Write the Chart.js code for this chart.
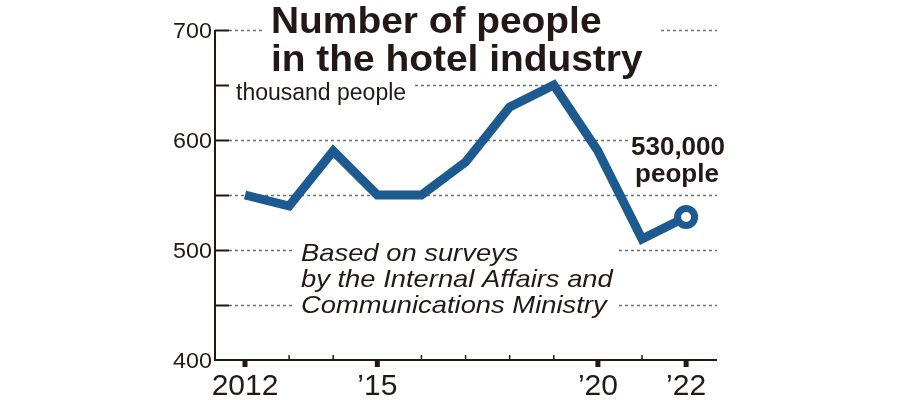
<!DOCTYPE html>
<html>
<head>
<meta charset="utf-8">
<script src="https://cdn.jsdelivr.net/npm/chart.js@4"></script>
<style>
  html, body { margin: 0; padding: 0; background: #fff; }
  #wrap { width: 900px; height: 400px; position: relative; }
</style>
</head>
<body>
<div id="wrap"><canvas id="hotel_chart"></canvas></div>
<script>
// data (thousand people)
var years = [2012, 2013, 2014, 2015, 2016, 2017, 2018, 2019, 2020, 2021, 2022];
var workers = [550, 540, 590, 550, 550, 580, 630, 650, 590, 510, 530];
var grid_values = [450, 500, 550, 600, 650, 700];
var y_label_values = [400, 500, 600, 700];
var x_label_years = [2012, 2015, 2020, 2022];
var x_labels = ['2012', '\u201915', '\u201920', '\u201922'];

var INK = '#231815';
var BLUE = '#1d5a8f';
var FONT = '"Liberation Sans", Arial, Helvetica, sans-serif';

function buildPoints() {
    var pts = [];
    for (var i = 0; i < years.length; i++) {
        pts.push({ x: years[i], y: workers[i] });
    }
    return pts;
}

function lastOnly(val) {
    var arr = [];
    for (var i = 0; i < workers.length; i++) {
        arr.push(i === workers.length - 1 ? val : 0);
    }
    return arr;
}

// draws text squeezed/stretched horizontally
function stretchText(ctx, txt, x, y, font, align, sx) {
    ctx.save();
    ctx.font = font;
    ctx.textAlign = align;
    ctx.textBaseline = 'alphabetic';
    ctx.fillStyle = INK;
    ctx.translate(x, y);
    ctx.scale(sx, 1);
    ctx.fillText(txt, 0, 0);
    ctx.restore();
}

function whiteBox(ctx, x, y, w, h) {
    ctx.fillStyle = '#fff';
    ctx.fillRect(x, y, w, h);
}

var decorPlugin = {
    id: 'decor',
    beforeDatasetsDraw: function (chart) {
        var ctx = chart.ctx;
        var xs = chart.scales.x;
        var ys = chart.scales.y;
        var area = chart.chartArea;
        var tickLen = 14;

        ctx.save();
        // dotted grid lines
        ctx.setLineDash([3, 3]);
        ctx.strokeStyle = '#6e6e6e';
        ctx.lineWidth = 1.5;
        grid_values.forEach(function (v) {
            var py = Math.round(ys.getPixelForValue(v)) + 0.5;
            ctx.beginPath();
            ctx.moveTo(area.left + tickLen, py);
            ctx.lineTo(area.right, py);
            ctx.stroke();
        });
        ctx.setLineDash([]);

        // solid tick stubs on the y axis
        ctx.strokeStyle = INK;
        ctx.lineWidth = 2;
        grid_values.forEach(function (v) {
            var py = Math.round(ys.getPixelForValue(v)) + 0.5;
            ctx.beginPath();
            ctx.moveTo(area.left, py);
            ctx.lineTo(area.left + tickLen, py);
            ctx.stroke();
        });

        // axes
        ctx.beginPath();
        ctx.moveTo(area.left, ys.getPixelForValue(700));
        ctx.lineTo(area.left, area.bottom);
        ctx.lineTo(area.right, area.bottom);
        ctx.stroke();

        // x ticks: thick below for labelled years, thin above for the rest
        years.forEach(function (yr) {
            var px = xs.getPixelForValue(yr);
            if (x_label_years.indexOf(yr) >= 0) {
                ctx.fillStyle = INK;
                ctx.fillRect(px - 2.5, area.bottom, 5, 7);
            } else {
                ctx.lineWidth = 1.5;
                ctx.beginPath();
                ctx.moveTo(px, area.bottom - 5);
                ctx.lineTo(px, area.bottom);
                ctx.stroke();
            }
        });

        // y labels
        y_label_values.forEach(function (v) {
            stretchText(ctx, String(v), area.left - 3, ys.getPixelForValue(v) + 8,
                '22px ' + FONT, 'right', 1.06);
        });

        // x labels
        x_label_years.forEach(function (yr, i) {
            stretchText(ctx, x_labels[i], xs.getPixelForValue(yr), 395,
                '30px ' + FONT, 'center', 1.0);
        });

        // title
        whiteBox(ctx, 263, 0, 398, 80);
        stretchText(ctx, 'Number of people', 271, 33, 'bold 36px ' + FONT, 'left', 1.08);
        stretchText(ctx, 'in the hotel industry', 271, 71, 'bold 36px ' + FONT, 'left', 1.08);

        // unit
        whiteBox(ctx, area.left + tickLen, 80, 186, 24);
        stretchText(ctx, 'thousand people', 236, 100, '23px ' + FONT, 'left', 1.0);

        // source note
        whiteBox(ctx, 294, 240, 322, 80);
        stretchText(ctx, 'Based on surveys', 301, 261, 'italic 24px ' + FONT, 'left', 1.14);
        stretchText(ctx, 'by the Internal Affairs and', 301, 287, 'italic 24px ' + FONT, 'left', 1.14);
        stretchText(ctx, 'Communications Ministry', 301, 313, 'italic 24px ' + FONT, 'left', 1.14);

        // latest value callout
        whiteBox(ctx, 628, 132, 100, 56);
        stretchText(ctx, '530,000', 678, 155, 'bold 26px ' + FONT, 'center', 1.0);
        stretchText(ctx, 'people', 677, 182, 'bold 26px ' + FONT, 'center', 1.0);

        ctx.restore();
    }
};

function buildHotelChart() {
    var hc = document.getElementById('hotel_chart');
    var hotelChart = new Chart(hc, {
        type: 'line',
        data: {
            datasets: [{
                label: 'Hotel industry workers',
                data: buildPoints(),
                borderColor: BLUE,
                borderWidth: 9,
                borderJoinStyle: 'miter',
                borderCapStyle: 'butt',
                tension: 0,
                fill: false,
                clip: false,
                pointRadius: lastOnly(8.5),
                pointHoverRadius: lastOnly(8.5),
                pointBackgroundColor: '#fff',
                pointBorderColor: BLUE,
                pointBorderWidth: 7
            }]
        },
        options: {
            responsive: true,
            maintainAspectRatio: false,
            animation: false,
            layout: {
                padding: { left: 215, right: 183, top: 30, bottom: 40 }
            },
            scales: {
                x: { type: 'linear', min: 2011.32, max: 2022.7, display: false },
                y: { type: 'linear', min: 400, max: 700, display: false }
            },
            plugins: {
                legend: { display: false },
                tooltip: { enabled: false }
            }
        },
        plugins: [decorPlugin]
    });
}

buildHotelChart();
</script>
</body>
</html>
